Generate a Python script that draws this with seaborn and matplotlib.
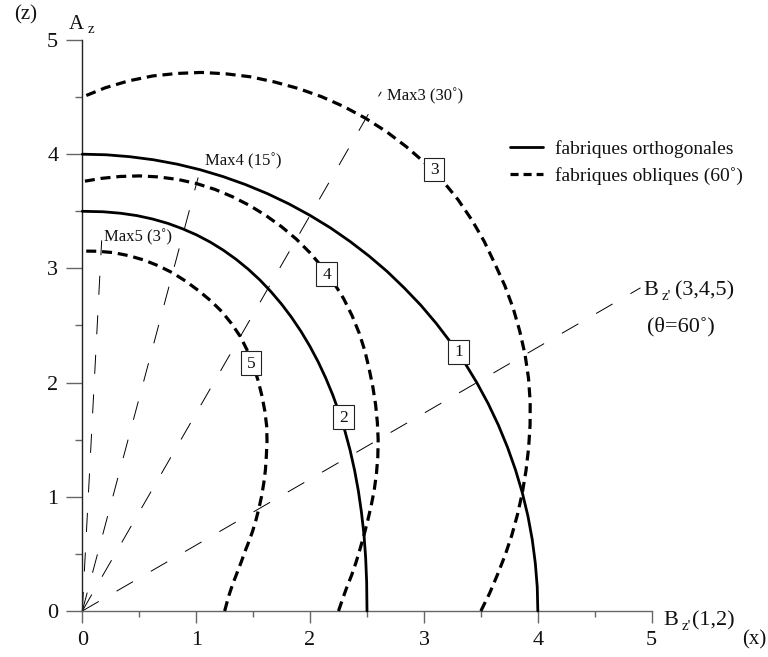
import matplotlib
matplotlib.use("Agg")
import matplotlib.pyplot as plt
from matplotlib.lines import Line2D
from matplotlib.patches import Rectangle
import numpy as np
import pandas as pd
import seaborn as sns

# ---- data ---------------------------------------------------------------
ORTHO = "fabriques orthogonales"
OBLIQ = "fabriques obliques (60˚)"

# orthogonal fabrics (solid curves 1 and 2)
c1_x = [4.000, 3.995, 3.978, 3.951, 3.913, 3.864, 3.804, 3.734, 3.654, 3.564, 3.464,
        3.355, 3.236, 3.109, 2.973, 2.828, 2.677, 2.517, 2.351, 2.179, 2.000,
        1.816, 1.627, 1.433, 1.236, 1.035, 0.832, 0.626, 0.418, 0.209, 0.000]
c1_z = [0.000, 0.209, 0.418, 0.626, 0.832, 1.035, 1.236, 1.433, 1.627, 1.816, 2.000,
        2.179, 2.351, 2.517, 2.677, 2.828, 2.973, 3.109, 3.236, 3.355, 3.464,
        3.564, 3.654, 3.734, 3.804, 3.864, 3.913, 3.951, 3.978, 3.995, 4.000]
c2_x = [2.500, 2.497, 2.488, 2.473, 2.451, 2.424, 2.391, 2.352, 2.307, 2.256, 2.200,
        2.138, 2.071, 1.998, 1.920, 1.837, 1.749, 1.656, 1.559, 1.457, 1.350,
        1.239, 1.124, 1.004, 0.880, 0.752, 0.619, 0.481, 0.336, 0.182, 0.000]
c2_z = [0.000, 0.254, 0.470, 0.673, 0.866, 1.053, 1.232, 1.406, 1.573, 1.735, 1.890,
        2.039, 2.182, 2.319, 2.449, 2.572, 2.688, 2.797, 2.899, 2.993, 3.080,
        3.159, 3.230, 3.293, 3.347, 3.394, 3.432, 3.462, 3.483, 3.496, 3.500]

# oblique fabrics (dashed curves 3, 4 and 5)
c3_x = [3.500, 3.577, 3.646, 3.713, 3.772, 3.822, 3.864, 3.896, 3.919, 3.932, 3.933,
        3.918, 3.888, 3.842, 3.784, 3.711, 3.623, 3.530, 3.422, 3.300, 3.163,
        3.010, 2.846, 2.673, 2.490, 2.299, 2.100, 1.895, 1.686, 1.475, 1.260,
        1.045, 0.830, 0.617, 0.406, 0.200, 0.000]
c3_z = [0.000, 0.156, 0.319, 0.489, 0.665, 0.847, 1.035, 1.228, 1.426, 1.629, 1.834,
        2.040, 2.245, 2.448, 2.650, 2.847, 3.040, 3.235, 3.422, 3.601, 3.769,
        3.923, 4.065, 4.196, 4.313, 4.416, 4.504, 4.576, 4.633, 4.678, 4.704,
        4.716, 4.707, 4.685, 4.642, 4.581, 4.500]
c4_x = [2.250, 2.284, 2.321, 2.364, 2.403, 2.438, 2.473, 2.506, 2.537, 2.564, 2.583,
        2.595, 2.598, 2.591, 2.576, 2.552, 2.520, 2.482, 2.432, 2.369, 2.295,
        2.207, 2.108, 1.999, 1.880, 1.751, 1.614, 1.471, 1.320, 1.164, 1.003,
        0.838, 0.670, 0.502, 0.333, 0.165, 0.000]
c4_z = [0.000, 0.100, 0.203, 0.311, 0.424, 0.540, 0.663, 0.790, 0.923, 1.062, 1.204,
        1.351, 1.500, 1.651, 1.804, 1.958, 2.115, 2.275, 2.432, 2.586, 2.735,
        2.876, 3.010, 3.137, 3.256, 3.364, 3.462, 3.550, 3.627, 3.692, 3.743,
        3.779, 3.801, 3.810, 3.805, 3.788, 3.760]
c5_x = [1.250, 1.265, 1.280, 1.299, 1.320, 1.345, 1.372, 1.400, 1.428, 1.462, 1.495,
        1.524, 1.550, 1.574, 1.593, 1.608, 1.616, 1.622, 1.619, 1.603, 1.578,
        1.545, 1.503, 1.451, 1.388, 1.310, 1.223, 1.126, 1.021, 0.910, 0.793,
        0.670, 0.542, 0.410, 0.275, 0.138, 0.000]
c5_z = [0.000, 0.055, 0.112, 0.171, 0.233, 0.298, 0.368, 0.441, 0.520, 0.606, 0.697,
        0.793, 0.895, 1.003, 1.116, 1.234, 1.356, 1.486, 1.619, 1.750, 1.881,
        2.014, 2.146, 2.277, 2.403, 2.517, 2.624, 2.718, 2.805, 2.887, 2.961,
        3.022, 3.073, 3.111, 3.138, 3.150, 3.152]

curve_ids = ["1", "2", "3", "4", "5"]
curve_fabric = [ORTHO, ORTHO, OBLIQ, OBLIQ, OBLIQ]
curve_xs = [c1_x, c2_x, c3_x, c4_x, c5_x]
curve_zs = [c1_z, c2_z, c3_z, c4_z, c5_z]

# directions of the maxima, measured from the z axis (degrees), and ray lengths
ray_names = ["Max5", "Max4", "Max3", "Bz'"]
ray_angle = [3, 15, 30, 60]
ray_length = [3.25, 3.93, 5.25, 5.66]

tick_values = [0, 1, 2, 3, 4, 5]

# ---- style --------------------------------------------------------------
sns.set_style("ticks")
plt.rcParams["font.family"] = ["Liberation Serif", "DejaVu Serif"]
plt.rcParams["lines.scale_dashes"] = False
plt.rcParams["text.color"] = "#111111"

fig = plt.figure(figsize=(7.68, 6.57), dpi=100)
ax = fig.add_axes([0.10716, 0.07002, 0.74141, 0.86910])

# ---- curves -------------------------------------------------------------
curves = pd.concat(
    [pd.DataFrame({"x": xs, "z": zs, "courbe": cid, "fabrique": fab})
     for cid, fab, xs, zs in zip(curve_ids, curve_fabric, curve_xs, curve_zs)],
    ignore_index=True,
)

sns.lineplot(data=curves[curves.fabrique == ORTHO], x="x", y="z", units="courbe",
             estimator=None, sort=False, color="black", linewidth=2.0,
             legend=False, ax=ax, clip_on=False, zorder=3)
sns.lineplot(data=curves[curves.fabrique == OBLIQ], x="x", y="z", units="courbe",
             estimator=None, sort=False, color="black", linewidth=2.3,
             linestyle=(0, (7.2, 4.2)), legend=False, ax=ax, clip_on=False, zorder=3)

# ---- rays from the origin ----------------------------------------------
rays = pd.concat(
    [pd.DataFrame({"x": [0.0, L * np.sin(np.radians(a))],
                   "z": [0.0, L * np.cos(np.radians(a))],
                   "rayon": name})
     for name, a, L in zip(ray_names, ray_angle, ray_length)],
    ignore_index=True,
)
sns.lineplot(data=rays, x="x", y="z", units="rayon", estimator=None, sort=False,
             color="black", linewidth=0.7, linestyle=(0, (13.7, 14.8)),
             legend=False, ax=ax, clip_on=False, zorder=2)

# ---- numbered boxes on the curves ---------------------------------------
box_at = {"1": (3.302, 2.270), "2": (2.292, 1.699), "3": (3.089, 3.864),
          "4": (2.146, 2.949), "5": (1.481, 2.172)}
bw, bh = 0.18, 0.206
for lab, (bx, bz) in box_at.items():
    ax.add_patch(Rectangle((bx - bw / 2, bz - bh / 2), bw, bh, facecolor="white",
                           edgecolor="#222222", linewidth=0.8, zorder=5))
    ax.text(bx, bz - 0.005, lab, ha="center", va="center", size=12.5, zorder=6)

# ---- labels of the maxima -----------------------------------------------
ax.text(0.193, 3.234, "Max5 (3˚)", size=12, ha="left", va="baseline")
ax.text(1.077, 3.905, "Max4 (15˚)", size=12, ha="left", va="baseline")
ax.text(2.672, 4.475, "Max3 (30˚)", size=12, ha="left", va="baseline")


def b_label(x, z, tail, tail_dx):
    kw = dict(xycoords="data", textcoords="offset points", ha="left",
              va="baseline", annotation_clip=False)
    ax.annotate("B", (x, z), xytext=(0, 0), size=16, **kw)
    ax.annotate("z'", (x, z), xytext=(13.0, -3.5), size=11, **kw)
    ax.annotate(tail, (x, z), xytext=(tail_dx, 0), size=16, **kw)


b_label(4.925, 2.767, "(3,4,5)", 22.8)
ax.text(4.961, 2.446, "(θ=60˚)", size=16, ha="left", va="baseline")
b_label(5.103, -0.123, "(1,2)", 20.4)

# ---- axes ---------------------------------------------------------------
ax.set_xlim(0, 5)
ax.set_ylim(0, 5)
ax.set_xlabel("")
ax.set_ylabel("")
ax.set_xticks(tick_values)
ax.set_yticks(tick_values)
ax.set_xticks(np.arange(0.5, 5, 1), minor=True)
ax.set_yticks(np.arange(0.5, 5, 1), minor=True)
ax.set_xticklabels([str(t) for t in tick_values])
ax.set_yticklabels([str(t) for t in tick_values])
for side in ("top", "right"):
    ax.spines[side].set_visible(False)
ax.spines["left"].set_color("#222222")
ax.spines["bottom"].set_color("#666666")
ax.spines["left"].set_linewidth(1.0)
ax.spines["bottom"].set_linewidth(1.0)
ax.tick_params(axis="x", which="major", direction="out", length=8.6, width=1.0,
               color="#666666", labelsize=16, pad=6, labelcolor="#111111")
ax.tick_params(axis="x", which="minor", direction="out", length=4.3, width=1.0,
               color="#666666")
ax.tick_params(axis="y", which="major", direction="out", length=11.3, width=1.0,
               color="#666666", labelsize=16, pad=6, labelcolor="#111111")
ax.tick_params(axis="y", which="minor", direction="out", length=5.2, width=1.0,
               color="#666666")

fig.text(25.7 / 768, 1 - 15 / 657, "(z)", size=15, ha="center", va="center")
fig.text(68.3 / 768, 1 - 29.3 / 657, "A", size=15, ha="left", va="baseline")
fig.text(87.3 / 768, 1 - 33.3 / 657, "z", size=11, ha="left", va="baseline")
fig.text(754 / 768, 1 - 640 / 657, "(x)", size=15, ha="center", va="center")

# ---- legend -------------------------------------------------------------
handles = [Line2D([0], [0], color="black", linewidth=2.0),
           Line2D([0], [0], color="black", linewidth=2.3, linestyle=(0, (5.8, 3.6)))]
ax.legend(handles, [ORTHO, OBLIQ], loc="center left", bbox_to_anchor=(0.751, 0.7855),
          frameon=False, fontsize=14, handlelength=1.7, handletextpad=0.6,
          labelspacing=0.45, borderpad=0, borderaxespad=0)

fig.savefig("out.png", dpi=100, facecolor="white")
